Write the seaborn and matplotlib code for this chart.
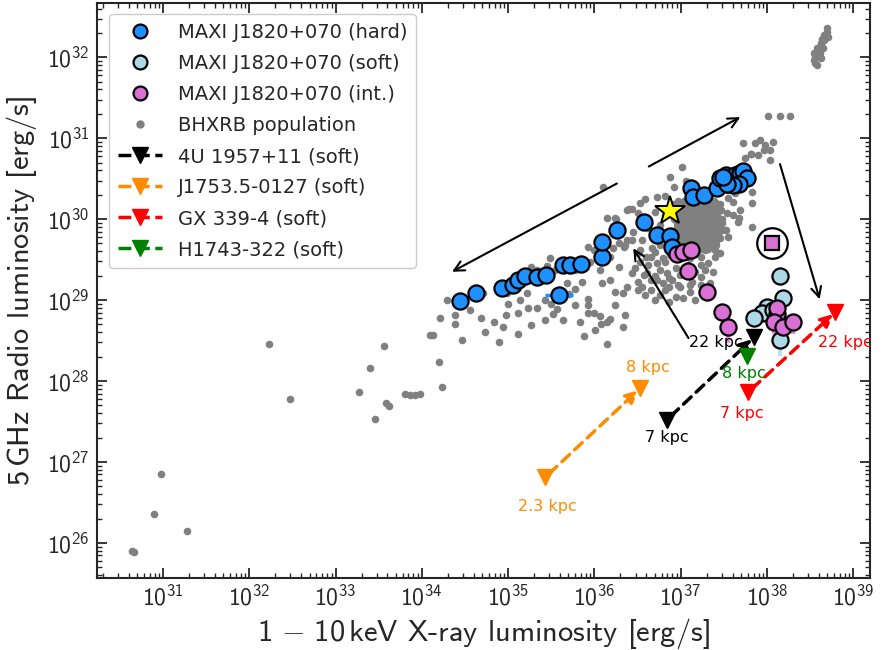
import numpy as np
import pandas as pd
import matplotlib
matplotlib.use('Agg')
import matplotlib.pyplot as plt
import seaborn as sns
from matplotlib.lines import Line2D
from matplotlib.ticker import NullFormatter

# all values are log10 of luminosity in erg/s

# MAXI J1820+070, hard state
hard_lx = [34.44, 34.63, 34.93, 35.06, 35.12, 35.20, 35.34, 35.44, 35.59, 35.64, 35.72, 35.85,
           36.09, 36.09, 36.26, 36.57, 36.72, 36.87, 36.90, 37.12, 37.14, 37.27, 37.42, 37.46,
           37.53, 37.57, 37.63, 37.69, 37.72, 37.77, 37.67, 37.61, 37.54, 37.49]
hard_ly = [28.99, 29.09, 29.15, 29.19, 29.25, 29.30, 29.28, 29.31, 29.06, 29.43, 29.43, 29.44,
           29.53, 29.72, 29.86, 29.96, 29.80, 29.79, 29.65, 30.38, 30.27, 30.30, 30.38, 30.51,
           30.54, 30.48, 30.54, 30.57, 30.60, 30.51, 30.44, 30.42, 30.44, 30.52]
hard_xerr_lo = 0.16   # x error bar on the 35.59 point
hard_xerr_hi = 0.16

# MAXI J1820+070, soft state
soft_lx = [38.15, 38.18, 38.00, 37.94, 37.85, 38.15, 38.07]
soft_ly = [29.30, 29.02, 28.91, 28.84, 28.78, 28.51, 28.88]
soft_yerr = [0.0, 0.0, 0.0, 0.0, 0.0, 0.2, 0.0]

# MAXI J1820+070, intermediate state
int_lx = [36.96, 37.03, 37.12, 37.09, 37.30, 37.48, 37.55, 38.11, 38.12, 38.08, 38.19, 38.30]
int_ly = [29.57, 29.59, 29.62, 29.36, 29.10, 28.85, 28.67, 28.83, 28.90, 28.73, 28.67, 28.73]
int_yerr = [0.0, 0.0, 0.0, 0.0, 0.0, 0.0, 0.2, 0.0, 0.0, 0.15, 0.0, 0.15]

# special intermediate point (square, circled) and the star
sq_lx, sq_ly = 38.06, 29.70
star_lx, star_ly = 36.88, 30.10

# BHXRB population
pop_lx = [30.64, 30.66, 30.98, 30.90, 31.28, 32.23, 32.47, 33.27, 33.40, 33.56, 33.59, 33.62,
          33.46, 33.81, 33.86, 33.92, 33.98, 34.10, 34.20, 34.23,
          36.10, 36.25, 36.40, 34.39, 34.39, 34.73, 34.84, 34.94, 35.00, 35.12, 35.23, 35.34,
          35.43, 35.50, 35.52, 35.57, 35.60, 35.68, 35.71, 35.77, 35.86, 35.92, 35.93, 35.99,
          36.07, 36.15, 36.08, 35.92, 36.09, 36.24, 36.33, 36.33, 36.21, 35.93, 35.99, 36.38,
          36.34, 35.26, 35.34, 35.45, 35.48, 35.54, 35.10, 35.22, 34.99, 34.71, 34.13, 35.12,
          35.88, 36.18, 36.28, 34.46, 34.90, 36.14,
          37.01, 36.88, 36.92, 37.06, 36.59, 36.72, 36.82, 36.43, 36.50, 36.24, 36.31, 36.45,
          36.36, 36.44, 36.51, 36.65, 36.73, 36.61, 36.73, 36.50, 36.44, 36.38, 36.55, 36.84,
          36.90, 36.86, 36.99, 37.13, 37.23, 37.32, 37.40, 37.46, 37.40, 37.23, 37.28, 37.38,
          37.52, 37.55, 37.54, 37.61, 37.67, 37.66, 37.69, 37.83, 37.83, 37.83, 37.72, 37.86,
          37.92, 37.98, 38.07, 38.04, 37.96, 37.89, 37.81, 38.04, 38.01, 38.15, 38.27, 37.55,
          37.61, 37.63, 37.54, 37.19, 37.26, 37.05, 36.99, 37.08, 36.53, 36.38, 36.15, 36.10,
          36.18, 36.28, 37.23, 37.31, 37.14, 37.03, 36.99, 37.74, 37.82,
          38.58, 38.54, 38.56, 38.59, 38.58, 38.63, 38.64, 38.66, 38.69, 38.70, 38.54, 38.61,
          38.65, 38.66, 38.56, 38.62, 38.71,
          36.97, 37.09, 37.20, 37.32, 37.41, 36.95, 37.06, 37.17, 37.27, 37.38, 37.47,
          36.99, 37.11, 37.21, 37.33, 37.43, 36.96, 37.08, 37.18, 37.28, 37.39, 37.48,
          37.02, 37.12, 37.23, 37.34, 37.43, 36.99, 37.09, 37.19, 37.30, 37.40,
          37.04, 37.14, 37.26, 37.35,
          36.91, 37.03, 37.14, 37.26, 37.37, 37.46, 36.94, 37.05, 37.16, 37.27, 37.39,
          36.92, 37.04, 37.16, 37.27, 37.38, 37.48, 36.96, 37.08, 37.19, 37.31, 37.41,
          36.94, 37.05, 37.17, 37.28, 37.39, 37.03, 37.14, 37.25, 37.35, 36.99, 37.11, 37.23, 37.32,
          37.04, 37.16, 37.27, 37.38, 37.01, 37.12, 37.23, 37.34, 37.42,
          37.05, 37.17, 37.28, 37.39, 37.02, 37.13, 37.24, 37.35, 37.45,
          36.97, 37.08, 37.18, 37.28, 37.39, 37.48, 37.04, 37.14, 37.25, 37.35, 37.45,
          36.99, 37.10, 37.20, 37.31, 37.41,
          36.97, 37.09, 37.20, 37.32, 37.41, 36.99, 37.11, 37.21, 37.33, 37.43,
          36.98, 37.10, 37.21, 37.32, 37.42, 37.02, 37.13, 37.25, 37.35, 37.46,
          36.99, 37.11, 37.23, 37.34, 37.43, 36.97, 37.09, 37.19, 37.31, 37.41,
          36.76, 36.86, 36.79, 36.94, 37.05, 37.14, 36.62, 36.76, 36.94, 37.09, 37.23, 36.65,
          36.80, 37.11, 37.28, 36.59, 36.76, 36.94, 36.53, 36.67, 36.55, 36.70, 36.62, 36.76,
          36.86, 36.82, 36.70, 36.88,
          36.53, 36.60, 36.70, 36.82, 36.88, 36.99, 37.11, 37.20, 36.47, 36.57, 36.70, 36.86,
          36.99, 37.17, 37.28, 36.51, 36.65, 36.82, 36.97, 37.11, 37.23, 36.70, 36.86, 37.03,
          37.17, 37.34, 37.37,
          35.60, 35.78, 35.95, 36.07, 36.18, 35.78, 35.64, 35.83, 35.43, 35.26, 36.24, 36.01,
          36.36, 34.56, 34.68, 34.21, 34.29, 35.14, 34.97]
pop_ly = [25.90, 25.89, 26.85, 26.36, 26.15, 28.46, 27.78, 27.86, 28.16, 28.43, 27.73, 27.69,
          27.53, 27.84, 27.83, 27.83, 27.84, 28.57, 28.23, 27.93,
          30.40, 30.00, 30.12, 28.81, 28.70, 28.60, 28.73, 28.67, 28.95, 28.84, 28.90, 28.90,
          29.00, 28.95, 28.83, 28.89, 29.12, 29.21, 29.07, 29.14, 29.22, 29.01, 28.94, 28.84,
          28.80, 28.73, 28.70, 28.84, 29.21, 29.10, 29.09, 28.67, 29.64, 29.65, 29.62, 29.74,
          29.65, 29.41, 29.37, 29.42, 29.52, 29.37, 29.17, 29.09, 29.09, 29.09, 28.57, 28.58,
          28.56, 28.77, 29.70, 28.51, 28.48, 28.46,
          30.65, 30.52, 30.40, 30.47, 30.25, 30.27, 30.28, 30.12, 30.07, 30.01, 29.89, 29.84,
          29.68, 29.74, 29.58, 29.53, 29.46, 29.33, 29.25, 29.22, 29.33, 29.16, 29.16, 29.33,
          29.25, 29.16, 29.16, 29.22, 29.28, 29.46, 29.53, 29.58, 29.62, 29.53, 29.62, 29.77,
          29.86, 29.78, 30.07, 30.05, 30.02, 29.96, 30.11, 30.20, 30.33, 29.90, 30.94, 30.94,
          30.98, 30.91, 30.95, 30.85, 30.85, 30.79, 30.81, 30.73, 31.28, 31.28, 31.28, 30.26,
          30.21, 30.32, 30.36, 30.17, 30.20, 30.23, 30.14, 30.11, 30.20, 30.11, 30.01, 29.65,
          29.53, 29.41, 29.90, 29.84, 29.86, 29.83, 29.90, 30.75, 30.80,
          31.90, 31.96, 32.02, 32.09, 32.12, 32.17, 32.22, 32.27, 32.31, 32.36, 32.05, 32.05,
          32.11, 32.21, 31.93, 31.99, 32.25,
          30.23, 30.25, 30.22, 30.23, 30.20, 30.14, 30.15, 30.12, 30.14, 30.12, 30.11,
          30.05, 30.04, 30.05, 30.04, 30.02, 29.95, 29.96, 29.94, 29.95, 29.94, 29.95,
          29.86, 29.85, 29.86, 29.85, 29.86, 29.77, 29.77, 29.75, 29.77, 29.75,
          29.68, 29.67, 29.69, 29.68,
          30.19, 30.19, 30.19, 30.19, 30.19, 30.19, 30.09, 30.09, 30.09, 30.09, 30.09,
          30.00, 30.00, 30.00, 30.00, 30.00, 30.00, 29.90, 29.90, 29.90, 29.90, 29.90,
          29.81, 29.81, 29.81, 29.81, 29.81, 29.73, 29.73, 29.73, 29.73, 29.63, 29.63, 29.63, 29.63,
          30.23, 30.23, 30.23, 30.23, 30.14, 30.14, 30.14, 30.14, 30.14,
          30.04, 30.04, 30.04, 30.04, 29.95, 29.95, 29.95, 29.95, 29.95,
          29.86, 29.86, 29.86, 29.86, 29.86, 29.86, 29.77, 29.77, 29.77, 29.77, 29.77,
          29.68, 29.68, 29.68, 29.68, 29.68,
          30.19, 30.19, 30.19, 30.19, 30.19, 30.09, 30.09, 30.09, 30.09, 30.09,
          30.00, 30.00, 30.00, 30.00, 30.00, 29.90, 29.90, 29.90, 29.90, 29.90,
          29.81, 29.81, 29.81, 29.81, 29.81, 29.73, 29.73, 29.73, 29.73, 29.73,
          29.68, 29.62, 29.52, 29.52, 29.54, 29.62, 29.43, 29.37, 29.40, 29.43, 29.43, 29.25,
          29.21, 29.10, 29.12, 29.06, 29.06, 29.04, 29.47, 29.64, 29.74, 29.80, 29.89, 29.93,
          29.84, 30.05, 30.09, 30.17,
          29.62, 29.53, 29.59, 29.47, 29.56, 29.62, 29.52, 29.62, 29.40, 29.31, 29.30, 29.27,
          29.31, 29.35, 29.37, 29.12, 29.12, 29.12, 29.19, 29.19, 29.19, 29.00, 28.98, 29.02,
          29.00, 29.21, 29.35,
          29.46, 29.37, 29.47, 29.37, 29.25, 28.94, 28.75, 28.73, 28.75, 28.69, 28.94, 28.63,
          28.81, 28.88, 28.78, 28.78, 29.00, 29.00, 28.81]

# soft-state upper limits: (near distance, far distance)
lim_names = ['4U 1957+11 (soft)', 'J1753.5-0127 (soft)', 'GX 339-4 (soft)', 'H1743-322 (soft)']
lim_colors = ['black', 'darkorange', 'red', 'green']
lim_lx = [[36.84, 37.85], [35.43, 36.53], [37.78, 38.79], [37.77]]
lim_ly = [[27.52, 28.54], [26.81, 27.91], [27.86, 28.85], [28.31]]
lim_dist = [['7 kpc', '22 kpc'], ['2.3 kpc', '8 kpc'], ['7 kpc', '22 kpc'], ['8 kpc']]
# label offsets in pixels for each distance label
lim_offs = [[(0, -18, 'center'), (-11, -5, 'right')],
            [(2, -29, 'center'), (8, 21, 'center')],
            [(-6, -21, 'center'), (10, -30, 'center')],
            [(-3, -18, 'center')]]

# black guide arrows: (tail x, tail y, head x, head y)
arrows = [(36.63, 30.65, 37.69, 31.26),
          (36.26, 30.44, 34.35, 29.35),
          (37.09, 28.53, 36.45, 29.64),
          (38.15, 30.68, 38.61, 29.01)]

x_decades = [31, 32, 33, 34, 35, 36, 37, 38, 39]
y_decades = [26, 27, 28, 29, 30, 31, 32]

sns.set_style('ticks')
plt.rcParams['font.family'] = ['cmss10']
plt.rcParams['mathtext.fontset'] = 'custom'
plt.rcParams['mathtext.rm'] = 'cmss10'
plt.rcParams['mathtext.it'] = 'cmss10'
plt.rcParams['mathtext.bf'] = 'cmss10'
plt.rcParams['axes.formatter.use_mathtext'] = True
plt.rcParams['axes.unicode_minus'] = False

fig = plt.figure(figsize=(8.89, 6.5), dpi=100)
ax = fig.add_axes([0.109, 0.111, 0.870, 0.884])
ax.set_xscale('log')
ax.set_yscale('log')

pop = pd.DataFrame({'x': 10 ** np.array(pop_lx), 'y': 10 ** np.array(pop_ly)})
hard = pd.DataFrame({'x': 10 ** np.array(hard_lx), 'y': 10 ** np.array(hard_ly)})
soft = pd.DataFrame({'x': 10 ** np.array(soft_lx), 'y': 10 ** np.array(soft_ly)})
inter = pd.DataFrame({'x': 10 ** np.array(int_lx), 'y': 10 ** np.array(int_ly)})

sns.scatterplot(data=pop, x='x', y='y', ax=ax, color='grey', s=30, linewidth=0, zorder=2)

# error bars (lower side only)
i = 8
ax.errorbar(hard.x[i], hard.y[i],
            xerr=[[hard.x[i] - 10 ** (hard_lx[i] - hard_xerr_lo)], [10 ** (hard_lx[i] + hard_xerr_hi) - hard.x[i]]],
            fmt='none', ecolor='dodgerblue', elinewidth=2.5, zorder=3)
for df, err, c in [(soft, soft_yerr, 'lightblue'), (inter, int_yerr, 'orchid')]:
    lo = df.y - 10 ** (np.log10(df.y) - np.array(err))
    ax.errorbar(df.x, df.y, yerr=[lo, np.zeros(len(df))], fmt='none', ecolor=c,
                elinewidth=3, alpha=0.8, zorder=3)

sns.scatterplot(data=hard, x='x', y='y', ax=ax, color='dodgerblue', s=135,
                edgecolor='black', linewidth=1.6, zorder=4)
sns.scatterplot(data=soft, x='x', y='y', ax=ax, color='lightblue', s=135,
                edgecolor='black', linewidth=1.6, zorder=4)
sns.scatterplot(data=inter, x='x', y='y', ax=ax, color='orchid', s=135,
                edgecolor='black', linewidth=1.6, zorder=4)

ax.plot(10 ** sq_lx, 10 ** sq_ly, 's', color='orchid', mec='black', mew=1.6, ms=10, zorder=5)
ax.plot(10 ** sq_lx, 10 ** sq_ly, 'o', mfc='none', mec='black', mew=1.6, ms=22, zorder=5)
ax.plot(10 ** star_lx, 10 ** star_ly, '*', color='yellow', mec='black', mew=1.4, ms=22, zorder=6)

# upper limits
for lx, ly, c, dist, offs in zip(lim_lx, lim_ly, lim_colors, lim_dist, lim_offs):
    xs = 10 ** np.array(lx)
    ys = 10 ** np.array(ly)
    if len(xs) == 2:
        ax.annotate('', xy=(xs[1], ys[1]), xytext=(xs[0], ys[0]),
                    arrowprops=dict(arrowstyle='-|>', color=c, lw=2.5, linestyle=(0, (3, 2)),
                                    mutation_scale=18, shrinkA=4, shrinkB=2), zorder=5)
    ax.plot(xs, ys, 'v', color=c, ms=11, zorder=6)
    for x, y, d, (dx, dy, ha) in zip(xs, ys, dist, offs):
        ax.annotate(d, xy=(x, y), xytext=(dx, dy), textcoords='offset pixels', color=c,
                    ha=ha, va='center', fontsize=11.5, family='DejaVu Sans', zorder=7,
                    annotation_clip=False)

for tx, ty, hx, hy in arrows:
    ax.annotate('', xy=(10 ** hx, 10 ** hy), xytext=(10 ** tx, 10 ** ty),
                arrowprops=dict(arrowstyle='->', color='black', lw=1.5, mutation_scale=18,
                                shrinkA=0, shrinkB=0), zorder=7)

ax.set_xlim(10 ** 30.235, 10 ** 39.197)
ax.set_ylim(10 ** 25.568, 10 ** 32.667)
ax.set_xticks([10.0 ** d for d in x_decades])
ax.set_yticks([10.0 ** d for d in y_decades])
ax.xaxis.set_minor_formatter(NullFormatter())
ax.yaxis.set_minor_formatter(NullFormatter())
ax.set_xlabel(r'1$\,-\,$10$\,$keV X-ray luminosity [erg/s]', fontsize=22, labelpad=4)
ax.set_ylabel(r'5$\,$GHz Radio luminosity [erg/s]', fontsize=22, labelpad=6)
ax.tick_params(which='both', direction='in', top=True, right=True, labelsize=17)
ax.tick_params(which='major', length=7, width=1.3, pad=5)
ax.tick_params(which='minor', length=3.5, width=1.0)
for s in ax.spines.values():
    s.set_linewidth(1.5)

handles = [
    Line2D([], [], ls='none', marker='o', color='dodgerblue', mec='black', mew=1.6, ms=10),
    Line2D([], [], ls='none', marker='o', color='lightblue', mec='black', mew=1.6, ms=10),
    Line2D([], [], ls='none', marker='o', color='orchid', mec='black', mew=1.6, ms=10),
    Line2D([], [], ls='none', marker='o', color='grey', ms=5),
]
labels = ['MAXI J1820+070 (hard)', 'MAXI J1820+070 (soft)', 'MAXI J1820+070 (int.)', 'BHXRB population']
for name, c in zip(lim_names, lim_colors):
    handles.append(Line2D([], [], ls='--', lw=2.5, marker='v', color=c, ms=11))
    labels.append(name)
ax.legend(handles, labels, loc='upper left', prop={'family': 'DejaVu Sans', 'size': 14},
          frameon=True, framealpha=1, labelspacing=0.62, borderpad=0.45,
          handlelength=2.3, handletextpad=0.8, bbox_to_anchor=(0.003, 0.998))

fig.savefig('out.png', dpi=100)
